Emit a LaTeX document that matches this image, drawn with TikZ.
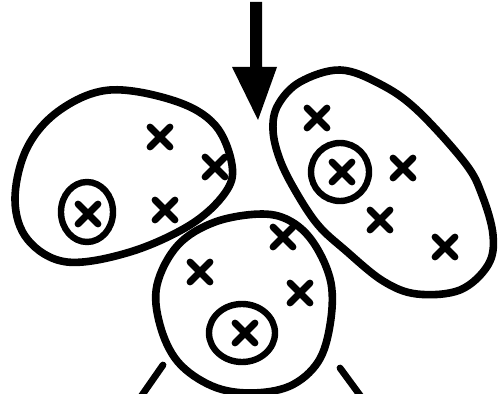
\documentclass[tikz,border=0pt]{standalone}
\begin{document}
\begin{tikzpicture}[x=0.5pt,y=-0.5pt,
  blob/.style={line width=3.8pt, line join=round},
  ring/.style={line width=3.2pt},
  cross/.style={line width=3.4pt, line cap=round},
  stroke/.style={line width=3.4pt, line cap=round}]
\useasboundingbox (0,0) rectangle (501,394);
\clip (0,0) rectangle (501,394);
\newcommand{\xm}[3][10]{\draw[cross] (#2-#1,#3-#1) -- (#2+#1,#3+#1) (#2+#1,#3-#1) -- (#2-#1,#3+#1);}
% arrow
\fill (250,2) -- (262,2) -- (262,67) -- (277,67) -- (258,120) -- (232,67) -- (250,67) -- cycle;
% left blob
\draw[blob] plot[smooth cycle, tension=0.6] coordinates {(110,90) (60,110) (27,148) (15,200) (28,240) (67,262) (130,252) (190,225) (225,193) (232,165) (215,125) (175,101)};
% right blob
\draw[blob] plot[smooth cycle, tension=0.6] coordinates {(340,70) (300,82) (278,105) (273,130) (280,160) (296,192) (318,225) (345,250) (383,281) (417,294) (460,290) (488,265) (493,235) (482,195) (465,163) (417,110) (380,84)};
% bottom blob
\draw[blob] plot[smooth cycle, tension=0.6] coordinates {(262,214) (215,222) (178,245) (157,285) (160,325) (178,362) (212,386) (250,393) (290,386) (318,362) (330,325) (331,283) (315,245) (292,222)};
% circles
\draw[ring] (87,212) ellipse [x radius=26, y radius=30];
\draw[ring] (340,172) ellipse [x radius=29, y radius=29];
\draw[ring] (242,333) ellipse [x radius=33, y radius=29];
% crosses, left blob
\xm{160}{137}
\xm{215}{167}
\xm{165}{210}
\xm{88}{214}
% crosses, right blob
\xm{317}{118}
\xm{342}{172}
\xm{403}{168}
\xm{380}{220}
\xm{445}{247}
% crosses, bottom blob
\xm{283}{237}
\xm{200}{272}
\xm{300}{293}
\xm{245}{333}
% bottom strokes
\draw[stroke] (163,365) -- (140,398);
\draw[stroke] (340,368) -- (362,398);
\end{tikzpicture}
\end{document}
